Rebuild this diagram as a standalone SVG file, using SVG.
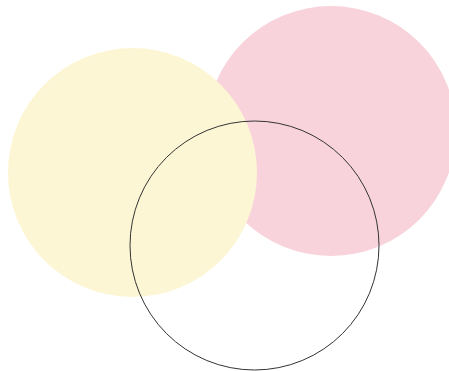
<svg xmlns="http://www.w3.org/2000/svg" width="449" height="371" viewBox="0 0 449 371">
<style>
.pink{fill:#F8D3DC;stroke:none}
.yellow{fill:#FDF6D4;stroke:none}
.ring{fill:none;stroke:#333333;stroke-width:1}
</style>
<rect width="449" height="371" fill="#FFFFFF"/>
<g id="pink-circle"><circle class="pink" cx="331" cy="131" r="125"/></g>
<g id="yellow-circle"><circle class="yellow" cx="132.5" cy="172.5" r="124.5"/></g>
<g id="outline-circle"><circle class="ring" cx="254.5" cy="245.5" r="124.5"/></g>
<g id="connectors"></g>
</svg>
